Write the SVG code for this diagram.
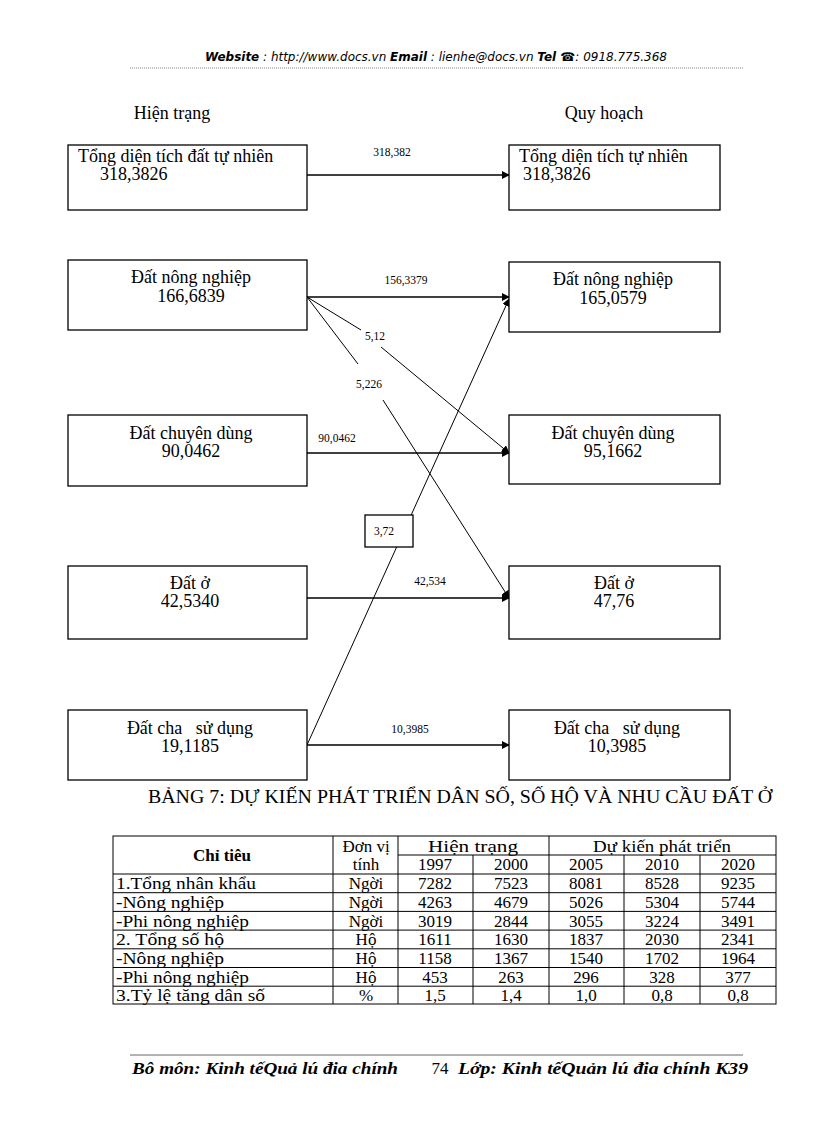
<svg xmlns="http://www.w3.org/2000/svg" width="816" height="1123" viewBox="0 0 816 1123">
<style>
.bx{fill:#fff;stroke:#000;stroke-width:1.3}
.t{font-family:"Liberation Serif",serif;font-size:18px;fill:#000}
.c{text-anchor:middle}
.lb{font-family:"Liberation Serif",serif;font-size:11.5px;fill:#000}
.ln{stroke:#000;stroke-width:1;fill:none}
.ar{stroke:#000;stroke-width:1.6;fill:none}
.tb{font-family:"Liberation Serif",serif;font-size:17px;fill:#000;text-anchor:middle}
.tl{font-family:"Liberation Serif",serif;font-size:17px;fill:#000}
.g{stroke:#000;stroke-width:1;fill:none}
</style>
<defs>
<marker id="ah" viewBox="0 0 10 10" refX="9" refY="5" markerWidth="8" markerHeight="8" markerUnits="userSpaceOnUse" orient="auto">
<path d="M0,0 L10,5 L0,10 z" fill="#000"/>
</marker>
</defs>
<g id="header">
<text x="436" y="61" font-family="DejaVu Sans,sans-serif" font-size="12" font-style="italic" text-anchor="middle" textLength="462" lengthAdjust="spacingAndGlyphs"><tspan font-weight="bold">Website</tspan> : http://www.docs.vn  <tspan font-weight="bold">Email</tspan>  : lienhe@docs.vn   <tspan font-weight="bold">Tel ☎</tspan>: 0918.775.368</text>
<line x1="130" y1="68" x2="743" y2="68" stroke="#888" stroke-width="1" stroke-dasharray="1,1"/>
</g>
<text class="t c" x="172" y="119">Hiện trạng</text>
<text class="t c" x="604" y="119">Quy hoạch</text>
<g id="connectors">
<line class="ar" x1="307" y1="175" x2="509" y2="175" marker-end="url(#ah)"/>
<line class="ar" x1="307" y1="297" x2="509" y2="297" marker-end="url(#ah)"/>
<line class="ln" x1="307" y1="297" x2="361" y2="330"/>
<line class="ln" x1="381" y1="347" x2="509" y2="453" marker-end="url(#ah)"/>
<line class="ln" x1="307" y1="297" x2="358" y2="364"/>
<line class="ln" x1="383" y1="400" x2="509" y2="598" marker-end="url(#ah)"/>
<line class="ar" x1="307" y1="453" x2="509" y2="453" marker-end="url(#ah)"/>
<line class="ar" x1="307" y1="598" x2="509" y2="598" marker-end="url(#ah)"/>
<line class="ln" x1="307" y1="745" x2="509" y2="299" marker-end="url(#ah)"/>
<line class="ar" x1="307" y1="745" x2="509" y2="745" marker-end="url(#ah)"/>
<text class="lb c" x="392" y="156">318,382</text>
<text class="lb c" x="406" y="284">156,3379</text>
<text class="lb c" x="375" y="340">5,12</text>
<text class="lb c" x="369" y="388">5,226</text>
<text class="lb c" x="337" y="442">90,0462</text>
<text class="lb c" x="430" y="585">42,534</text>
<text class="lb c" x="410" y="733">10,3985</text>
</g>
<g id="lbl372">
<rect class="bx" x="365" y="515" width="48" height="32" stroke-width="1"/>
<text class="lb c" x="384" y="535">3,72</text>
</g>
<g id="n1l"><rect class="bx" x="68" y="145" width="239" height="65"/>
<text class="t" x="78" y="162">Tổng diện tích đất tự nhiên</text><text class="t" x="100" y="180">318,3826</text></g>
<g id="n1r"><rect class="bx" x="509" y="145" width="211" height="65"/>
<text class="t" x="519" y="162">Tổng diện tích tự nhiên</text><text class="t" x="523" y="180">318,3826</text></g>
<g id="n2l"><rect class="bx" x="68" y="260" width="239" height="70"/>
<text class="t c" x="191" y="283">Đất nông nghiệp</text><text class="t c" x="191" y="302">166,6839</text></g>
<g id="n2r"><rect class="bx" x="509" y="262" width="211" height="70"/>
<text class="t c" x="613" y="285">Đất nông nghiệp</text><text class="t c" x="613" y="304">165,0579</text></g>
<g id="n3l"><rect class="bx" x="68" y="415" width="239" height="71"/>
<text class="t c" x="191" y="439">Đất chuyên dùng</text><text class="t c" x="191" y="457">90,0462</text></g>
<g id="n3r"><rect class="bx" x="509" y="415" width="211" height="69"/>
<text class="t c" x="613" y="439">Đất chuyên dùng</text><text class="t c" x="613" y="457">95,1662</text></g>
<g id="n4l"><rect class="bx" x="68" y="566" width="239" height="73"/>
<text class="t c" x="190" y="589">Đất ở</text><text class="t c" x="190" y="607">42,5340</text></g>
<g id="n4r"><rect class="bx" x="509" y="566" width="211" height="73"/>
<text class="t c" x="614" y="589">Đất ở</text><text class="t c" x="614" y="607">47,76</text></g>
<g id="n5l"><rect class="bx" x="68" y="710" width="239" height="70"/>
<text class="t c" x="190" y="734" xml:space="preserve">Đất cha   sử dụng</text><text class="t c" x="190" y="752">19,1185</text></g>
<g id="n5r"><rect class="bx" x="509" y="710" width="221" height="70"/>
<text class="t c" x="617" y="734" xml:space="preserve">Đất cha   sử dụng</text><text class="t c" x="617" y="752">10,3985</text></g>
<text class="t c" x="460" y="803" font-size="19" textLength="624" lengthAdjust="spacingAndGlyphs">BẢNG 7: DỰ KIẾN PHÁT TRIỂN DÂN SỐ, SỐ HỘ VÀ NHU CẦU ĐẤT Ở</text>
<g id="table">
<rect class="g" x="113" y="836" width="663" height="168"/>
<line class="g" x1="333" y1="836" x2="333" y2="1004"/>
<line class="g" x1="398" y1="836" x2="398" y2="1004"/>
<line class="g" x1="549" y1="836" x2="549" y2="1004"/>
<line class="g" x1="473" y1="855" x2="473" y2="1004"/>
<line class="g" x1="624" y1="855" x2="624" y2="1004"/>
<line class="g" x1="700" y1="855" x2="700" y2="1004"/>
<line class="g" x1="398" y1="855" x2="776" y2="855"/>
<line class="g" x1="113" y1="874" x2="776" y2="874"/>
<line class="g" x1="113" y1="892.7" x2="776" y2="892.7"/>
<line class="g" x1="113" y1="911.4" x2="776" y2="911.4"/>
<line class="g" x1="113" y1="930.1" x2="776" y2="930.1"/>
<line class="g" x1="113" y1="948.8" x2="776" y2="948.8"/>
<line class="g" x1="113" y1="967.5" x2="776" y2="967.5"/>
<line class="g" x1="113" y1="986.2" x2="776" y2="986.2"/>
<text class="tb" x="222" y="861" font-weight="bold" font-size="18">Chỉ tiêu</text>
<text class="tb" x="366" y="852">Đơn vị</text>
<text class="tb" x="366" y="870">tính</text>
<text class="tb" x="473" y="852" textLength="90" lengthAdjust="spacingAndGlyphs">Hiện trạng</text>
<text class="tb" x="662" y="852" textLength="138" lengthAdjust="spacingAndGlyphs">Dự kiến phát triển</text>
<text class="tb" x="435" y="870">1997</text><text class="tb" x="511" y="870">2000</text><text class="tb" x="586" y="870">2005</text><text class="tb" x="662" y="870">2010</text><text class="tb" x="738" y="870">2020</text>
<text class="tl" x="116" y="889" textLength="140" lengthAdjust="spacingAndGlyphs">1.Tổng nhân khẩu</text>
<text class="tl" x="116" y="908" textLength="108" lengthAdjust="spacingAndGlyphs">-Nông nghiệp</text>
<text class="tl" x="116" y="927" textLength="133" lengthAdjust="spacingAndGlyphs">-Phi nông nghiệp</text>
<text class="tl" x="116" y="945" textLength="108" lengthAdjust="spacingAndGlyphs">2. Tổng số hộ</text>
<text class="tl" x="116" y="964" textLength="108" lengthAdjust="spacingAndGlyphs">-Nông nghiệp</text>
<text class="tl" x="116" y="983" textLength="133" lengthAdjust="spacingAndGlyphs">-Phi nông nghiệp</text>
<text class="tl" x="116" y="1001" textLength="149" lengthAdjust="spacingAndGlyphs">3.Tỷ lệ tăng dân số</text>
<text class="tb" x="366" y="889">Ngời</text><text class="tb" x="366" y="908">Ngời</text><text class="tb" x="366" y="927">Ngời</text>
<text class="tb" x="366" y="945">Hộ</text><text class="tb" x="366" y="964">Hộ</text><text class="tb" x="366" y="983">Hộ</text><text class="tb" x="366" y="1001">%</text>
<text class="tb" x="435" y="889">7282</text><text class="tb" x="511" y="889">7523</text><text class="tb" x="586" y="889">8081</text><text class="tb" x="662" y="889">8528</text><text class="tb" x="738" y="889">9235</text>
<text class="tb" x="435" y="908">4263</text><text class="tb" x="511" y="908">4679</text><text class="tb" x="586" y="908">5026</text><text class="tb" x="662" y="908">5304</text><text class="tb" x="738" y="908">5744</text>
<text class="tb" x="435" y="927">3019</text><text class="tb" x="511" y="927">2844</text><text class="tb" x="586" y="927">3055</text><text class="tb" x="662" y="927">3224</text><text class="tb" x="738" y="927">3491</text>
<text class="tb" x="435" y="945">1611</text><text class="tb" x="511" y="945">1630</text><text class="tb" x="586" y="945">1837</text><text class="tb" x="662" y="945">2030</text><text class="tb" x="738" y="945">2341</text>
<text class="tb" x="435" y="964">1158</text><text class="tb" x="511" y="964">1367</text><text class="tb" x="586" y="964">1540</text><text class="tb" x="662" y="964">1702</text><text class="tb" x="738" y="964">1964</text>
<text class="tb" x="435" y="983">453</text><text class="tb" x="511" y="983">263</text><text class="tb" x="586" y="983">296</text><text class="tb" x="662" y="983">328</text><text class="tb" x="738" y="983">377</text>
<text class="tb" x="435" y="1001">1,5</text><text class="tb" x="511" y="1001">1,4</text><text class="tb" x="586" y="1001">1,0</text><text class="tb" x="662" y="1001">0,8</text><text class="tb" x="738" y="1001">0,8</text>
</g>
<g id="footer">
<line x1="130" y1="1055" x2="743" y2="1055" stroke="#666" stroke-width="1"/>
<text x="132" y="1074" font-family="Liberation Serif,serif" font-size="16" font-style="italic" font-weight="bold" textLength="266" lengthAdjust="spacingAndGlyphs">Bô môn: Kinh tếQuả lú đia chính</text>
<text x="440" y="1074" font-family="Liberation Serif,serif" font-size="17" text-anchor="middle">74</text>
<text x="458" y="1074" font-family="Liberation Serif,serif" font-size="16" font-style="italic" font-weight="bold" textLength="290" lengthAdjust="spacingAndGlyphs">Lớp: Kinh tếQuản lú đia chính K39</text>
</g>
</svg>
